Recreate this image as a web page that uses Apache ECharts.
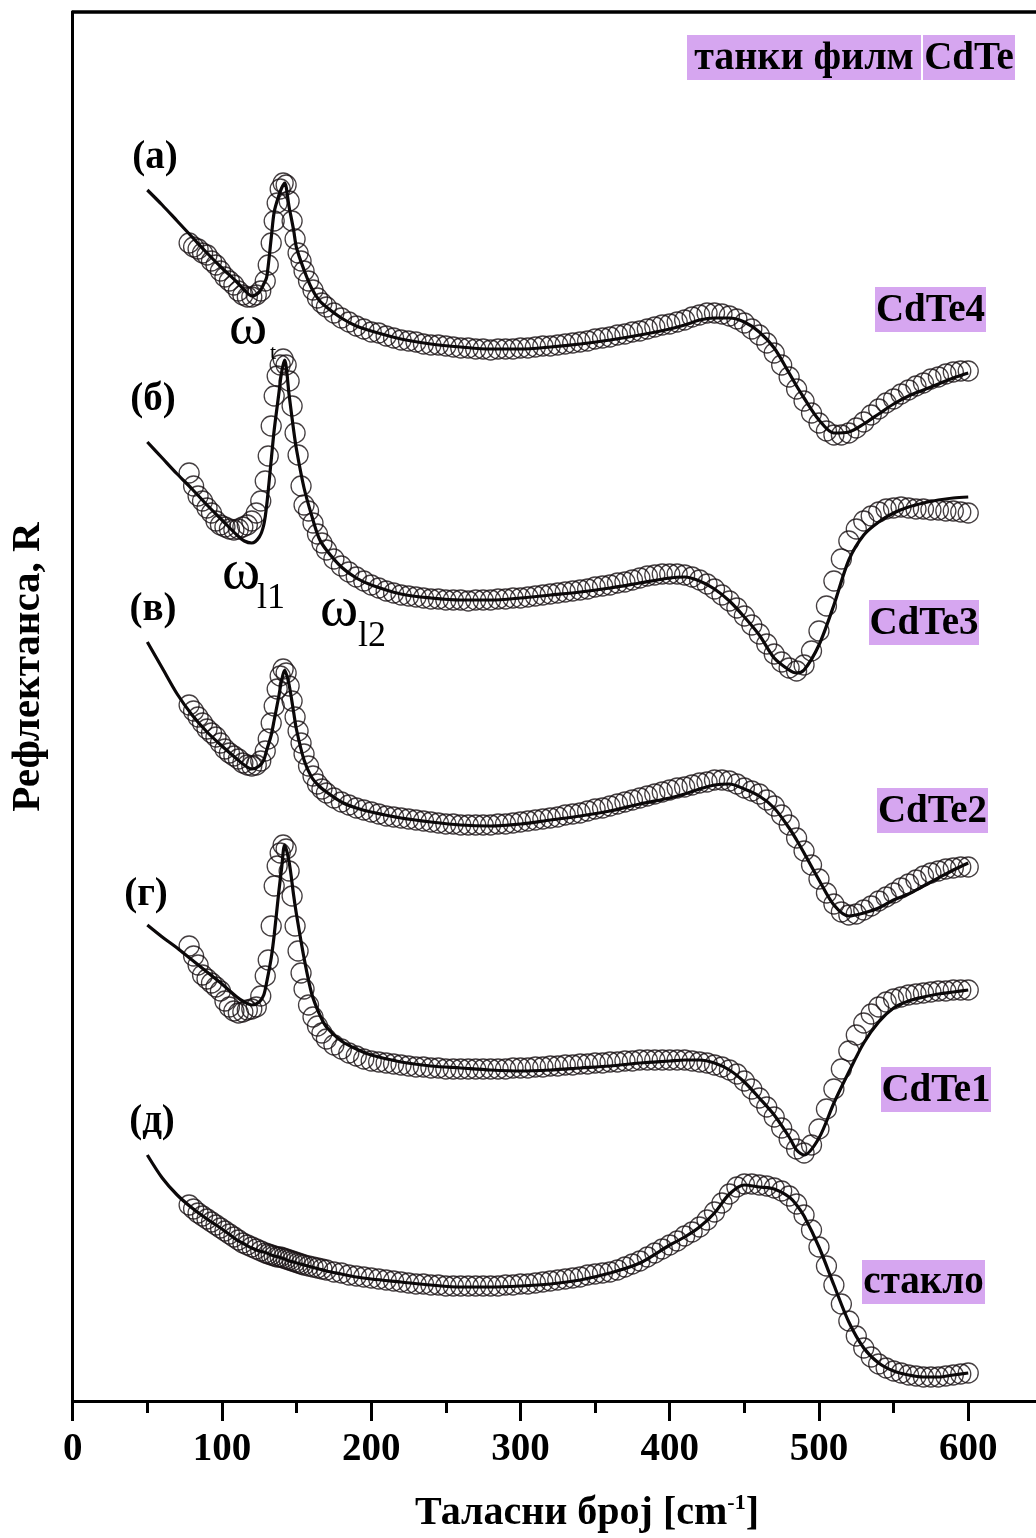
<!DOCTYPE html>
<html><head><meta charset="utf-8">
<script src="https://cdn.jsdelivr.net/npm/echarts@6/dist/echarts.min.js"></script>
<style>html,body{margin:0;padding:0;background:#fff}#c{width:1036px;height:1538px}</style>
</head><body><div id="c"></div>
<script>
// Wavenumber grid of the fitted curves (cm^-1)
const fitX = [50,60,70,80,90,100,110,115,120,125,128,130,133,135,138,140,142,145,148,150,155,160,165,170,180,190,200,220,240,260,280,300,320,340,360,380,400,410,420,430,440,450,460,470,480,485,490,500,510,520,530,540,550,560,570,580,590,600];
// Fitted reflectance (offset, arbitrary units)
const fitCdTe4 = [1211,1196,1180,1164,1148,1133,1119,1111,1105,1109,1117,1124,1163,1189,1205,1213,1218,1194,1171,1153,1131,1113,1101,1094,1083,1075,1070,1062,1057,1054,1052,1052,1054,1057,1061,1066,1072,1076,1081,1083,1083,1079,1069,1053,1028,1015,1003,981,968,969,977,987,997,1005,1011,1017,1023,1028];
const fitCdTe3 = [959,943,927,912,896,881,866,860,858,864,876,896,941,971,1006,1029,1041,1006,971,951,913,886,863,851,834,823,816,807,803,801,801,803,806,809,813,818,823,824,820,812,800,784,766,743,731,728,731,756,796,841,866,879,888,894,898,901,903,904];
const fitCdTe2 = [759,733,707,686,669,655,642,636,632,635,641,651,666,681,704,721,731,716,689,671,641,624,615,609,599,593,589,583,579,576,575,577,581,585,590,597,603,607,612,616,617,612,605,593,573,561,548,521,496,485,488,493,501,507,515,523,531,538];
const fitCdTe1 = [476,464,453,441,429,417,404,399,396,399,406,419,443,466,508,533,556,539,506,486,443,408,388,374,360,352,346,339,335,333,331,330,331,333,335,338,340,341,341,338,331,319,303,286,264,251,246,263,298,329,358,379,393,400,404,407,409,411];
const fitGlass = [246,223,206,193,182,172,161,157,153,150,149,148,146,145,144,143,142,140,139,138,136,134,132,130,127,124,122,119,116,114,114,115,117,121,128,138,156,164,174,188,207,216,214,212,204,196,185,154,116,79,53,38,30,26,24,24,26,28];

// Wavenumbers of the measured points (cm^-1)
const measX = [78,81,84,87,90,93,96,99,102,105,108,111,114,117,120,123,126,129,
131,133,135,137,139,141,143,145,147,149,151,153,155,
158,161,164,167,170,
175,180,185,190,195,200,205,210,215,220,
225,230,235,240,245,250,255,260,265,270,
275,280,285,290,295,300,305,310,315,320,
325,330,335,340,345,350,355,360,365,370,
375,380,385,390,395,400,405,410,415,420,
425,430,435,440,445,450,455,460,465,470,
475,480,485,490,495,500,505,510,515,520,
525,530,535,540,545,550,555,560,565,570,
575,580,585,590,595,600];
// Measured reflectance (offset, arbitrary units)
const measCdTe4 = [1158,1154,1152,1148,1146,1140,1136,1130,1124,1120,1116,1110,1106,1104,1104,1106,1110,1120,
1136,1158,1180,1198,1212,1218,1216,1200,1180,1162,1148,1140,1130,
1120,1111,1103,1098,1094,
1088,1083,1079,1075,1072,1069,1068,1065,1063,1061,
1060,1059,1057,1056,1056,1055,1054,1053,1053,1052,
1052,1051,1052,1052,1052,1053,1053,1054,1055,1055,
1056,1057,1058,1059,1060,1062,1063,1064,1066,1067,
1069,1070,1072,1074,1076,1077,1079,1081,1084,1086,
1088,1088,1087,1085,1082,1078,1072,1066,1058,1048,
1036,1024,1012,1000,988,978,970,966,966,968,
973,979,986,992,998,1002,1007,1011,1015,1018,
1022,1024,1027,1029,1030,1030];
const measCdTe3 = [928,915,905,900,893,888,880,876,874,872,871,872,874,876,880,888,900,920,
945,975,1005,1025,1036,1042,1036,1020,995,968,946,915,896,
890,878,867,858,851,
842,835,829,824,820,816,813,810,808,806,
805,804,803,802,802,801,801,801,800,801,
801,801,802,802,803,803,804,805,806,807,
808,809,810,811,812,814,815,816,818,819,
821,823,825,826,827,827,827,826,824,821,
817,812,806,800,793,785,776,767,757,747,
739,733,730,736,750,770,795,820,842,860,
872,880,885,889,892,893,894,893,892,892,
891,891,890,890,889,888];
const measCdTe2 = [696,690,684,678,672,668,664,658,652,648,645,642,638,636,635,636,640,650,
662,678,695,712,725,732,728,715,700,684,670,658,647,
635,625,617,612,608,
603,599,596,593,591,589,587,585,584,583,
582,581,580,579,578,577,577,576,576,576,
576,576,577,577,578,579,580,581,582,583,
584,586,587,588,590,592,593,595,597,599,
601,603,605,607,609,611,613,614,616,618,
619,621,621,620,617,613,610,607,601,595,
586,576,563,550,536,522,508,497,489,486,
487,491,495,500,504,508,513,517,521,525,
528,530,532,533,534,534];
const measCdTe1 = [455,445,436,426,422,418,414,410,400,394,390,388,389,391,392,394,405,425,
441,475,515,535,548,556,552,530,505,475,450,428,412,
396,384,375,368,362,
356,352,348,345,342,340,339,338,337,336,
335,334,334,333,333,332,332,332,332,332,
332,332,332,332,333,333,333,334,334,335,
335,336,336,337,337,338,338,339,339,340,
340,341,341,341,341,341,341,341,340,339,
338,336,334,331,327,320,312,303,294,284,
273,262,252,248,256,272,292,312,332,350,
366,378,387,394,399,402,404,406,407,408,
409,410,410,411,411,411];
const measGlass = [196,192,188,185,182,179,176,173,170,167,164,161,158,156,154,152,150,148,
147,146,145,144,144,143,142,141,140,139,138,137,136,
135,134,133,132,131,
129,128,126,125,124,123,122,121,120,119,
118,117,117,116,116,115,115,115,115,115,
115,115,115,116,116,117,117,118,119,120,
121,122,123,124,126,127,128,129,131,134,
137,140,144,148,152,156,160,165,169,174,
181,189,198,207,214,217,217,216,215,213,
210,205,197,186,171,154,135,116,97,80,
65,53,44,37,33,30,28,26,25,24,
24,24,25,26,27,28];

// Axis ticks
const xTickValues = [0,100,200,300,400,500,600];
const xMinorTickValues = [50,150,250,350,450,550];

// Texts
const panelLabels = ['(а)','(б)','(в)','(г)','(д)'];
const sampleNames = ['CdTe4','CdTe3','CdTe2','CdTe1','стакло'];
const titleParts = ['танки филм','CdTe'];
const xTitle = 'Таласни број [cm{s|-1}]';
const yTitle = 'Рефлектанса, R';

const FONT = '"Liberation Serif","Times New Roman",serif';
const PURPLE = '#d6a6f0';

function pairs(xs, ys){ return xs.map((x,i)=>[x, ys[i]]); }

const series = [];
[[measCdTe4, fitCdTe4],[measCdTe3, fitCdTe3],[measCdTe2, fitCdTe2],[measCdTe1, fitCdTe1],[measGlass, fitGlass]].forEach(([m,f])=>{
  series.push({type:'scatter', data: pairs(measX, m), symbol:'circle', symbolSize:20,
    itemStyle:{color:'rgba(255,255,255,0)', borderColor:'#160f12', borderWidth:1.3}, silent:true, z:2});
  series.push({type:'line', data: pairs(fitX, f), smooth:0.3, showSymbol:false,
    lineStyle:{color:'#0b0809', width:3.2}, silent:true, z:3});
});

function txt(text, x, y, size, weight, extra){
  return Object.assign({type:'text', x:x, y:y, z:20,
    style:{text:text, fontSize:size, fontWeight:weight, fontFamily:FONT, fill:'#000', align:'center', verticalAlign:'middle'}}, extra||{});
}
function box(text, x0, y0, x1, y1, size){
  return [
    {type:'rect', shape:{x:x0, y:y0, width:x1-x0, height:y1-y0}, style:{fill:PURPLE}, z:15},
    txt(text, (x0+x1)/2, (y0+y1)/2+1, size, 'bold')
  ];
}

const graphics = [];
// panel letters
[[155,158],[153,400],[153,610],[146,895],[152,1122]].forEach((p,i)=>graphics.push(txt(panelLabels[i], p[0], p[1], 39, 'bold')));
// purple sample labels
const boxes = [[875,287,986,332],[869,600,979,645],[877,788,988,833],[881,1067,991,1112],[862,1260,985,1304]];
boxes.forEach((b,i)=>graphics.push(...box(sampleNames[i], b[0], b[1], b[2], b[3], 39)));
graphics.push(...box(titleParts[0], 687, 35, 921, 80, 40));
graphics.push(...box(titleParts[1], 923, 35, 1015, 80, 39));
// omega annotations
graphics.push(txt('ω', 248, 328, 58, 'normal'));
graphics.push(txt('t', 273, 353, 22, 'normal'));
graphics.push(txt('ω', 241, 573, 58, 'normal'));
graphics.push(txt('l1', 271, 599, 36, 'normal'));
graphics.push(txt('ω', 339, 610, 58, 'normal'));
graphics.push(txt('l2', 372, 637, 36, 'normal'));
// axis titles
graphics.push(txt(yTitle, 28, 667, 41, 'bold', {rotation: Math.PI/2}));
graphics.push({type:'text', x:587, y:1514, z:20, style:{text:xTitle, fontSize:40, fontWeight:'bold', fontFamily:FONT, fill:'#000',
  align:'center', verticalAlign:'middle', rich:{s:{fontSize:22, fontWeight:'bold', fontFamily:FONT, fill:'#000', padding:[0,0,22,0]}}}});

const chart = echarts.init(document.getElementById('c'), null, {renderer:'canvas'});
chart.setOption({
  animation:false,
  backgroundColor:'#ffffff',
  grid:{left:72.7, top:12, width:962.7, height:1389},
  xAxis:[
    {type:'value', min:0, max:645, position:'bottom',
      axisLine:{show:true, onZero:false, lineStyle:{color:'#000', width:3}},
      axisTick:{show:true, customValues:xTickValues, length:20, lineStyle:{color:'#000', width:3}},
      axisLabel:{customValues:xTickValues, fontSize:39, fontWeight:'bold', fontFamily:FONT, color:'#000', margin:29},
      splitLine:{show:false}},
    {type:'value', min:0, max:645, position:'bottom',
      axisLine:{show:false, onZero:false},
      axisTick:{show:true, customValues:xMinorTickValues, length:12, lineStyle:{color:'#000', width:3}},
      axisLabel:{show:false}, splitLine:{show:false}},
    {type:'value', min:0, max:645, position:'top',
      axisLine:{show:true, onZero:false, lineStyle:{color:'#000', width:3.5}},
      axisTick:{show:false}, axisLabel:{show:false}, splitLine:{show:false}}
  ],
  yAxis:{type:'value', min:0, max:1389,
    axisLine:{show:true, onZero:false, lineStyle:{color:'#000', width:3}},
    axisTick:{show:false}, axisLabel:{show:false}, splitLine:{show:false}},
  series: series,
  graphic: graphics
});
</script>
</body></html>
